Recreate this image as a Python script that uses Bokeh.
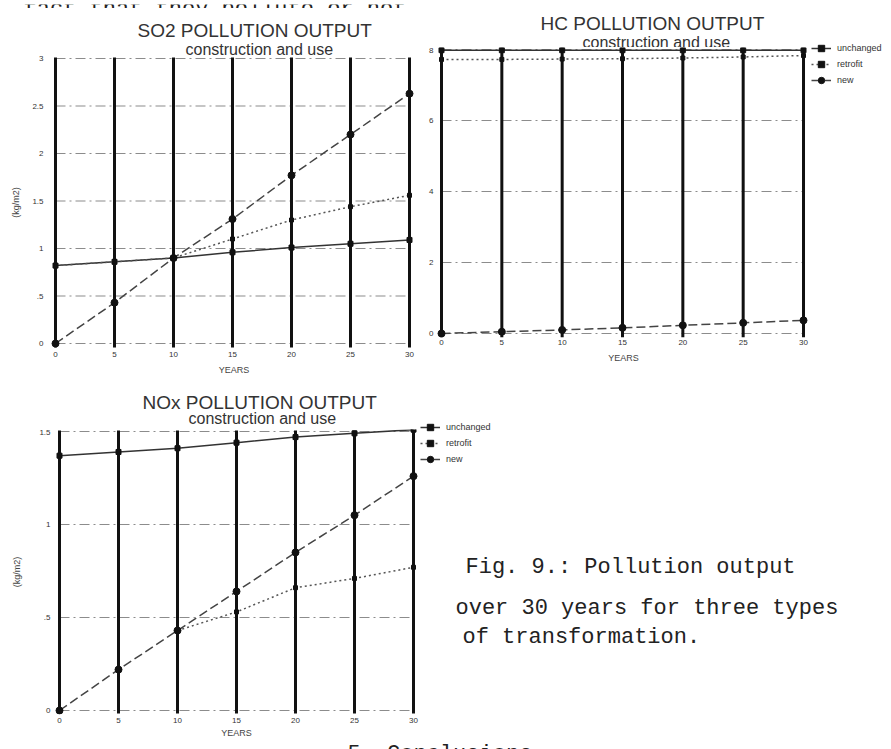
from bokeh.plotting import figure
from bokeh.models import Range1d, Legend, LegendItem, FixedTicker
from bokeh.layouts import column, row
from bokeh.embed import file_html
from bokeh.resources import INLINE
from bokeh.core.properties import value

nan = float("nan")

# ---------------- data ----------------
years = [0, 5, 10, 15, 20, 25, 30]
x_tick_labels = ["0", "5", "10", "15", "20", "25", "30"]

so2_ticks = [0, 0.5, 1, 1.5, 2, 2.5, 3]
so2_tick_labels = ["0", ".5", "1", "1.5", "2", "2.5", "3"]
so2_unchanged = [0.82, 0.86, 0.90, 0.96, 1.01, 1.05, 1.09]
so2_retrofit = [0.82, 0.86, 0.90, 1.10, 1.30, 1.44, 1.56]
so2_new = [0.00, 0.43, 0.90, 1.31, 1.77, 2.20, 2.63]

hc_ticks = [0, 2, 4, 6, 8]
hc_tick_labels = ["0", "2", "4", "6", "8"]
hc_unchanged = [7.98, 7.98, 7.98, 7.98, 7.98, 7.98, 7.98]
hc_retrofit = [7.72, 7.72, 7.73, 7.74, 7.76, 7.79, 7.83]
hc_new = [0.00, 0.05, 0.10, 0.16, 0.23, 0.30, 0.37]

nox_ticks = [0, 0.5, 1, 1.5]
nox_tick_labels = ["0", ".5", "1", "1.5"]
nox_unchanged = [1.37, 1.39, 1.41, 1.44, 1.47, 1.49, 1.51]
nox_retrofit = [nan, nan, 0.43, 0.53, 0.66, 0.71, 0.77]
nox_new = [0.00, 0.22, 0.43, 0.64, 0.85, 1.05, 1.26]

series_names = ["unchanged", "retrofit", "new"]

SANS = "Liberation Sans"
MONO = "Liberation Mono"

STYLES = [
    dict(dash="solid", marker="square", size=5, color="#333333"),
    dict(dash="2 3", marker="square", size=4, color="#555555"),
    dict(dash="9 4", marker="circle", size=7, color="#444444"),
]


def pixfig(left, top, width, height):
    """Blank panel whose data space is page pixels (for page text and legends)."""
    s = figure(width=width, height=height, x_range=Range1d(left, left + width),
               y_range=Range1d(top + height, top),
               output_backend="svg", toolbar_location=None, title=None,
               min_border=0, x_axis_type=None, y_axis_type=None)
    s.outline_line_color = None
    s.xgrid.visible = False
    s.ygrid.visible = False
    s.background_fill_color = "white"
    s.border_fill_color = "white"
    return s


def put_text(fig, px, py, txt, font, size, color="#2b2b2b"):
    fig.text(x=[px], y=[py], text=[txt], text_font=value(font), text_font_size=value(size),
             text_color=color, text_baseline="alphabetic", text_align="left")


def add_legend(fig, items, x, y):
    row_h = 16
    pad = 2
    h = row_h * len(items) + 2 * pad
    lg = Legend(items=items, location=(x, fig.height - (y + h)),
                margin=0, padding=pad, spacing=0,
                glyph_height=row_h, glyph_width=20, label_height=row_h, label_standoff=6,
                label_text_font=SANS, label_text_font_size="9px", label_text_color="#333333",
                border_line_color=None, background_fill_alpha=0)
    fig.add_layout(lg)


def legend_panel(left, top, width, height, leg_x, leg_y):
    f = pixfig(left, top, width, height)
    items = []
    for name, st in zip(series_names, STYLES):
        ln = f.line([nan], [nan], line_color=st["color"], line_width=1.5, line_dash=st["dash"])
        sc = f.scatter([nan], [nan], marker=st["marker"], size=st["size"],
                       fill_color="#111111", line_color="#111111")
        items.append(LegendItem(label=name, renderers=[ln, sc]))
    add_legend(f, items, leg_x - left, leg_y - top)
    return f


def chart(page_left, page_top, width, height, border_left, border_bottom,
          x0_px, px_per_x, y0_px, px_per_y,
          yticks, ylabels, values, ylabel, ylabel_standoff, vline_top_px, vline_bot_px,
          tick_standoff=2, xlabel_standoff=2):
    dx = lambda px: (px - x0_px) / px_per_x
    dy = lambda py: (y0_px - py) / px_per_y
    fl, fr = page_left + border_left, page_left + width
    ft, fb = page_top, page_top + height - border_bottom
    p = figure(width=width, height=height,
               x_range=Range1d(dx(fl), dx(fr)), y_range=Range1d(dy(fb), dy(ft)),
               output_backend="svg", toolbar_location=None, title=None,
               min_border_left=border_left, min_border_right=0,
               min_border_top=0, min_border_bottom=border_bottom)
    p.outline_line_color = None
    p.background_fill_color = "white"
    p.border_fill_color = "white"
    p.xgrid.visible = False
    p.ygrid.visible = False

    p.xaxis.ticker = FixedTicker(ticks=years)
    p.yaxis.ticker = FixedTicker(ticks=yticks)
    p.xaxis.major_label_overrides = {t: l for t, l in zip(years, x_tick_labels)}
    p.yaxis.major_label_overrides = {t: l for t, l in zip(yticks, ylabels)}
    for ax in (p.xaxis, p.yaxis):
        ax.axis_line_color = None
        ax.major_tick_line_color = None
        ax.minor_tick_line_color = None
        ax.major_tick_out = 0
        ax.major_tick_in = 0
        ax.major_label_text_font = SANS
        ax.major_label_text_font_size = "8px"
        ax.major_label_text_color = "#333333"
        ax.axis_label_text_font = SANS
        ax.axis_label_text_font_size = "9px"
        ax.axis_label_text_font_style = "normal"
        ax.axis_label_text_color = "#444444"
    p.xaxis.major_label_standoff = tick_standoff
    p.yaxis.major_label_standoff = 2
    p.xaxis.axis_label = "YEARS"
    p.xaxis.axis_label_standoff = xlabel_standoff
    if ylabel:
        p.yaxis.axis_label = ylabel
        p.yaxis.axis_label_standoff = ylabel_standoff

    # horizontal dash-dot grid at the y ticks, spanning the years
    n = len(yticks)
    p.segment(x0=[years[0]] * n, x1=[years[-1]] * n, y0=yticks, y1=yticks,
              line_color="#8c8c8c", line_width=1.2, line_dash="10 4 2 4")
    # heavy vertical rules at every year tick
    m = len(years)
    p.segment(x0=years, x1=years, y0=[dy(vline_bot_px)] * m, y1=[dy(vline_top_px)] * m,
              line_color="#111111", line_width=3)

    for name, vals, st in zip(series_names, values, STYLES):
        p.line(years, vals, line_color=st["color"], line_width=1.5, line_dash=st["dash"])
        p.scatter(years, vals, marker=st["marker"], size=st["size"],
                  fill_color="#111111", line_color="#111111")
    return p


def header(left, top, width, height, title, title_px, subtitle, sub_px):
    h = pixfig(left, top, width, height)
    put_text(h, title_px[0], title_px[1], title, SANS, "19px", "#333333")
    put_text(h, sub_px[0], sub_px[1], subtitle, SANS, "16px", "#333333")
    return h


# ---------------- SO2 ----------------
so2_head = header(0, 8, 422, 47, "SO2 POLLUTION OUTPUT", (137, 30), "construction and use", (185, 49))
so2 = chart(0, 55, 422, 325, 45, 31, 55, 11.8, 343, 95.0,
            so2_ticks, so2_tick_labels, [so2_unchanged, so2_retrofit, so2_new],
            "(kg/m2)", 8, 57, 347, tick_standoff=2, xlabel_standoff=5)

# ---------------- HC ----------------
hc_head = header(422, 8, 389, 39, "HC POLLUTION OUTPUT", (540, 23), "construction and use", (582, 42))
hc = chart(422, 47, 389, 333, 13, 43, 441, 12.067, 333, 35.5,
           hc_ticks, hc_tick_labels, [hc_unchanged, hc_retrofit, hc_new],
           None, 0, 47, 337, tick_standoff=2, xlabel_standoff=5)
hc_leg = legend_panel(811, 8, 80, 372, 811, 36)

# ---------------- NOx ----------------
nox_head = header(0, 380, 420, 49, "NOx POLLUTION OUTPUT", (142, 402), "construction and use", (188, 418))
nox = chart(0, 429, 420, 311, 52, 26, 59, 11.8, 710, 186.0,
            nox_ticks, nox_tick_labels, [nox_unchanged, nox_retrofit, nox_new],
            "(kg/m2)", 14, 430, 713, tick_standoff=3, xlabel_standoff=2)

# ---------------- legend of NOx and figure caption ----------------
cap = legend_panel(420, 380, 471, 360, 420, 415)
put_text(cap, 465, 567, "Fig.  9.:  Pollution output", MONO, "22px", "#222222")
put_text(cap, 455, 608, "over 30  years for  three types", MONO, "22px", "#222222")
put_text(cap, 462, 637, "of  transformation.", MONO, "22px", "#222222")

# ---------------- running text of the page (top and bottom, clipped) ----------------
top = pixfig(0, 0, 891, 8)
put_text(top, 23, 5, "fact that they pollute or not", MONO, "22px", "#222222")
bottom = pixfig(0, 740, 891, 9)
put_text(bottom, 347, 751, "5. Conclusions", MONO, "22px", "#222222")


def w(f):
    # wrap each figure on its own so that the layout does not align their frames
    return column(f)


layout = column(
    w(top),
    row(column(w(so2_head), w(so2)), column(w(hc_head), w(hc)), w(hc_leg)),
    row(column(w(nox_head), w(nox)), w(cap)),
    w(bottom),
)
open("out.html", "w").write(file_html(layout, INLINE))
